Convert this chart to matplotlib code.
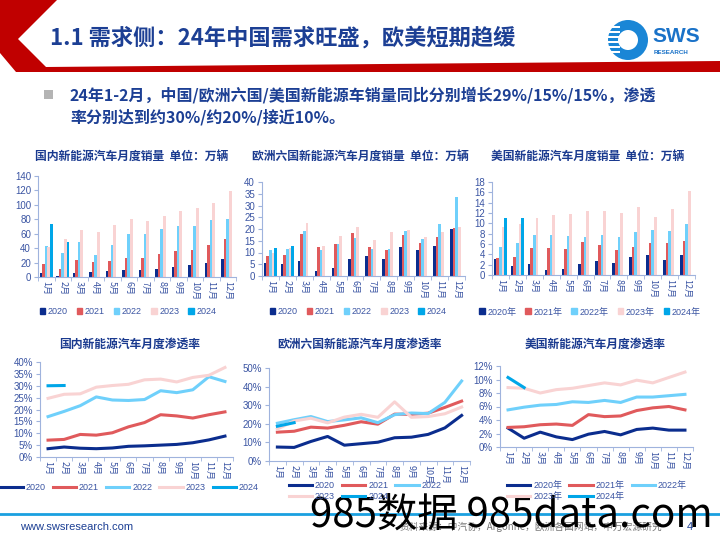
import numpy as np
import matplotlib
matplotlib.use("Agg")
import matplotlib.pyplot as plt
from matplotlib.patches import Polygon, Rectangle, Circle, Patch
from matplotlib.lines import Line2D

plt.rcParams['font.family'] = ['Liberation Sans', 'Noto Sans CJK SC', 'DejaVu Sans']

months = ['1月', '2月', '3月', '4月', '5月', '6月', '7月', '8月', '9月', '10月', '11月', '12月']
years = ['2020', '2021', '2022', '2023', '2024']
nan = np.nan

# monthly sales, 10k vehicles
cn_sales = {
    '2020': [6, 1.3, 5, 7, 8, 10, 10, 11, 14, 16, 20, 25],
    '2021': [18, 11, 23.5, 20.5, 22, 26, 27, 32, 36, 38, 45, 53],
    '2022': [43, 33, 48, 30, 45, 60, 59, 67, 71, 71, 79, 81],
    '2023': [41, 53, 65, 63, 72, 81, 78, 85, 91, 96, 103, 119],
    '2024': [73, 48] + [nan] * 10,
}
eu_sales = {
    '2020': [5.5, 5, 6.5, 2.3, 3.4, 7.1, 8.6, 7.1, 12.3, 11.1, 12.6, 19.8],
    '2021': [8.5, 8.9, 18, 12.2, 13.6, 18.4, 12.2, 11.2, 17.5, 13.9, 16.7, 20.3],
    '2022': [10.9, 11.4, 19.1, 11.2, 13.6, 16.3, 11.4, 11.4, 19.1, 15.8, 22.1, 33.5],
    '2023': [9.6, 11.8, 22.4, 12.7, 16.9, 20.9, 15.5, 18.7, 19.6, 16.6, 18.7, 20.8],
    '2024': [12.1, 12.7] + [nan] * 10,
}
us_sales = {
    '2020': [3.1, 1.7, 2.2, 1.0, 1.2, 2.1, 2.8, 2.4, 3.5, 3.8, 3.0, 3.9],
    '2021': [3.3, 3.5, 5.3, 5.3, 5.0, 6.3, 5.8, 4.9, 5.5, 6.1, 6.1, 6.6],
    '2022': [5.5, 6.1, 7.7, 7.8, 7.5, 7.4, 7.8, 7.4, 8.3, 8.7, 8.6, 9.9],
    '2023': [9.3, 9.8, 11.0, 11.6, 11.8, 12.4, 12.3, 12.0, 13.1, 11.2, 12.7, 16.3],
    '2024': [11.0, 11.0] + [nan] * 10,
}

# penetration rate, %
cn_pen = {
    '2020': [3.5, 4.2, 3.7, 3.5, 3.8, 4.5, 4.7, 5.0, 5.3, 6.0, 7.2, 8.8],
    '2021': [7.1, 7.4, 9.5, 9.2, 10.2, 12.7, 14.5, 17.8, 17.3, 16.4, 17.8, 19.0],
    '2022': [17.0, 19.2, 21.6, 25.3, 24.0, 23.8, 24.2, 27.9, 27.1, 28.3, 33.8, 31.8],
    '2023': [24.7, 26.4, 26.6, 29.4, 30.1, 30.6, 32.5, 32.8, 31.6, 33.5, 34.4, 37.7],
    '2024': [30.0, 30.1] + [nan] * 10,
}
eu_pen = {
    '2020': [7.5, 7.3, 10.5, 13.2, 8.5, 9.3, 10.1, 12.5, 12.8, 14.3, 17.8, 24.5],
    '2021': [15.5, 16.0, 18.2, 17.7, 19.2, 21.1, 19.8, 25.2, 25.1, 25.7, 28.8, 32.2],
    '2022': [20.3, 22.2, 23.9, 21.2, 22.1, 23.2, 20.6, 24.9, 25.8, 25.5, 31.5, 43.0],
    '2023': [17.2, 21.5, 23.0, 20.5, 23.6, 25.1, 23.5, 31.8, 23.5, 23.9, 25.4, 29.0],
    '2024': [18.7, 20.6] + [nan] * 10,
}
us_pen = {
    '2020': [2.8, 1.3, 2.2, 1.5, 1.1, 1.9, 2.3, 1.8, 2.6, 2.8, 2.5, 2.5],
    '2021': [2.9, 3.0, 3.3, 3.4, 3.2, 4.8, 4.5, 4.6, 5.4, 5.8, 6.0, 5.5],
    '2022': [5.5, 5.9, 6.2, 6.3, 6.7, 6.6, 6.9, 6.6, 7.4, 7.4, 7.6, 7.8],
    '2023': [8.8, 8.7, 8.0, 8.5, 8.7, 9.1, 9.5, 9.2, 9.9, 9.5, 10.3, 11.1],
    '2024': [10.3, 8.8] + [nan] * 10,
}

colors = {'2020': '#0b2d8e', '2021': '#e05a5c', '2022': '#6fd0fb',
          '2023': '#f9d3d3', '2024': '#00a6e8'}
navy = '#1a3a8f'
tick_col = '#3b55a3'
axis_col = '#9fb3dd'

W, H = 720, 540
fig = plt.figure(figsize=(7.2, 5.4), dpi=100)


def ax_at(x0, y0, x1, y1):
    return fig.add_axes([x0 / W, 1 - y1 / H, (x1 - x0) / W, (y1 - y0) / H])


def fxy(x, y):
    return x / W, 1 - y / H


# background decorations
bg = fig.add_axes([0, 0, 1, 1])
bg.set_xlim(0, W)
bg.set_ylim(H, 0)
bg.axis('off')
bg.add_patch(Polygon([(0, 0), (57, 0), (18, 39), (46, 67), (720, 61), (720, 72),
                      (16, 72), (0, 53)], closed=True, color='#c00000', lw=0))
bg.text(50, 38, '1.1 需求侧：24年中国需求旺盛，欧美短期趋缓', fontsize=16,
        fontweight='bold', color='#1c3f94', va='center', ha='left',
        family=['Noto Sans CJK SC', 'DejaVu Sans'])
# logo
bg.add_patch(Circle((628, 40), 20, color='#1a86d6', lw=0))
bg.add_patch(Circle((628, 40), 10, color='white', lw=0))
for yy in range(26, 56, 5):
    bg.add_patch(Rectangle((606, yy), 14, 2, color='white', lw=0))
bg.text(652, 36, 'SWS', fontsize=15, fontweight='bold', color='#1a72c8', va='center')
bg.text(654, 53, 'RESEARCH', fontsize=4.5, fontweight='bold', color='#1a72c8', va='center')

bg.add_patch(Rectangle((44, 90), 9, 9, color='#b4b4b4', lw=0))
bullet = ('24年1-2月，中国/欧洲六国/美国新能源车销量同比分别增长29%/15%/15%，渗透\n'
          '率分别达到约30%/约20%/接近10%。')
bg.text(70, 106, bullet, fontsize=11.5, fontweight='bold', color='#1c3f94',
        va='center', ha='left', linespacing=1.45,
        family=['Noto Sans CJK SC', 'DejaVu Sans'])

# footer
bg.plot([0, 720], [514, 514], color='#1aa0e0', lw=2)
bg.text(20, 527, 'www.swsresearch.com', fontsize=8, color='#1c3f94', va='center')
bg.text(400, 527, '资料来源：中汽协，Argonne，欧洲各国网站，申万宏源研究', fontsize=7,
        color='#777777', va='center', family=['Noto Sans CJK SC', 'DejaVu Sans'])
bg.text(687, 527, '4', fontsize=8, color='#1c3f94', va='center')

x = np.arange(len(months))


def style_axes(ax, ylim, yticks, ylabels):
    ax.set_xlim(-0.5, len(months) - 0.5)
    ax.set_ylim(*ylim)
    ax.set_yticks(yticks)
    ax.set_yticklabels(ylabels)
    ax.set_xticks(x)
    ax.set_xticklabels(months, rotation=270, fontsize=6.5, color=tick_col,
                       family=['Noto Sans CJK SC', 'DejaVu Sans'])
    ax.set_xticks(np.arange(-0.5, len(months)), minor=True)
    ax.tick_params(axis='x', which='major', length=0, pad=3)
    ax.tick_params(axis='x', which='minor', length=3, color=axis_col)
    ax.tick_params(axis='y', length=3, color=axis_col, labelsize=7, labelcolor=tick_col, pad=2)
    for s in ('top', 'right'):
        ax.spines[s].set_visible(False)
    for s in ('left', 'bottom'):
        ax.spines[s].set_color(axis_col)
    ax.patch.set_alpha(0)


def bar_chart(box, data, ylim, step, title, tx, legend_x, suffix=''):
    ax = ax_at(*box)
    width = 0.16
    for i, yr in enumerate(years):
        ax.bar(x + (i - 2) * 0.155, data[yr], width=width, color=colors[yr], lw=0)
    ticks = np.arange(ylim[0], ylim[1] + step / 2, step)
    style_axes(ax, ylim, ticks, ['%d' % t for t in ticks])
    fig.text(*fxy(tx, 156), title, fontsize=8.5, fontweight='bold', color=navy,
             ha='center', va='center', family=['Noto Sans CJK SC', 'DejaVu Sans'])
    handles = [Patch(color=colors[yr]) for yr in years]
    fig.legend(handles, [yr + suffix for yr in years], loc='center',
               bbox_to_anchor=fxy(legend_x, 312), ncol=5, frameon=False,
               handlelength=0.6, handleheight=0.6, handletextpad=0.3,
               columnspacing=1.0, labelcolor=tick_col,
               prop={'family': ['Liberation Sans', 'Noto Sans CJK SC'], 'size': 6.5})
    return ax


bar_chart((38, 176, 236, 277), cn_sales, (0, 140), 20,
          '国内新能源汽车月度销量  单位：万辆', 132, 128)
bar_chart((262, 182, 465, 276), eu_sales, (0, 40), 5,
          '欧洲六国新能源汽车月度销量  单位：万辆', 360, 358)
bar_chart((492, 182, 695, 275), us_sales, (0, 18), 2,
          '美国新能源汽车月度销量  单位：万辆', 588, 590, suffix='年')


def line_chart(box, data, ylim, step, title, tx, legend_x, ncol, suffix=''):
    ax = ax_at(*box)
    for yr in years:
        ax.plot(x, np.array(data[yr]) / 100, color=colors[yr], lw=2.2)
    ticks = np.arange(ylim[0], ylim[1] + step / 2, step)
    style_axes(ax, (ylim[0] / 100, ylim[1] / 100), ticks / 100,
               ['%d%%' % t for t in ticks])
    fig.text(*fxy(tx, 344), title, fontsize=8.5, fontweight='bold', color=navy,
             ha='center', va='center', family=['Noto Sans CJK SC', 'DejaVu Sans'])
    order = years if ncol == 5 else ['2020', '2023', '2021', '2024', '2022']
    handles = [Line2D([], [], color=colors[yr], lw=2.2) for yr in order]
    ly = 488 if ncol == 5 else 491
    fig.legend(handles, [yr + suffix for yr in order], loc='center',
               bbox_to_anchor=fxy(legend_x, ly), ncol=ncol, frameon=False,
               handlelength=2.6, handletextpad=0.3, columnspacing=0.8,
               labelspacing=0.2, labelcolor=tick_col,
               prop={'family': ['Liberation Sans', 'Noto Sans CJK SC'], 'size': 6.5})
    return ax


line_chart((40, 362, 233, 457), cn_pen, (0, 40), 5, '国内新能源汽车月度渗透率', 130, 129, 5)
line_chart((269, 368, 470, 461), eu_pen, (0, 50), 10, '欧洲六国新能源汽车月度渗透率', 360, 365, 3)
line_chart((500, 366, 693, 447), us_pen, (0, 12), 2, '美国新能源汽车月度渗透率', 595, 597, 3, suffix='年')

# watermark
fig.text(*fxy(511, 515), '985数据 985data.com', fontsize=29, color='black',
         ha='center', va='center', family=['Noto Sans CJK SC', 'DejaVu Sans'])

fig.savefig('out.png', dpi=100)
